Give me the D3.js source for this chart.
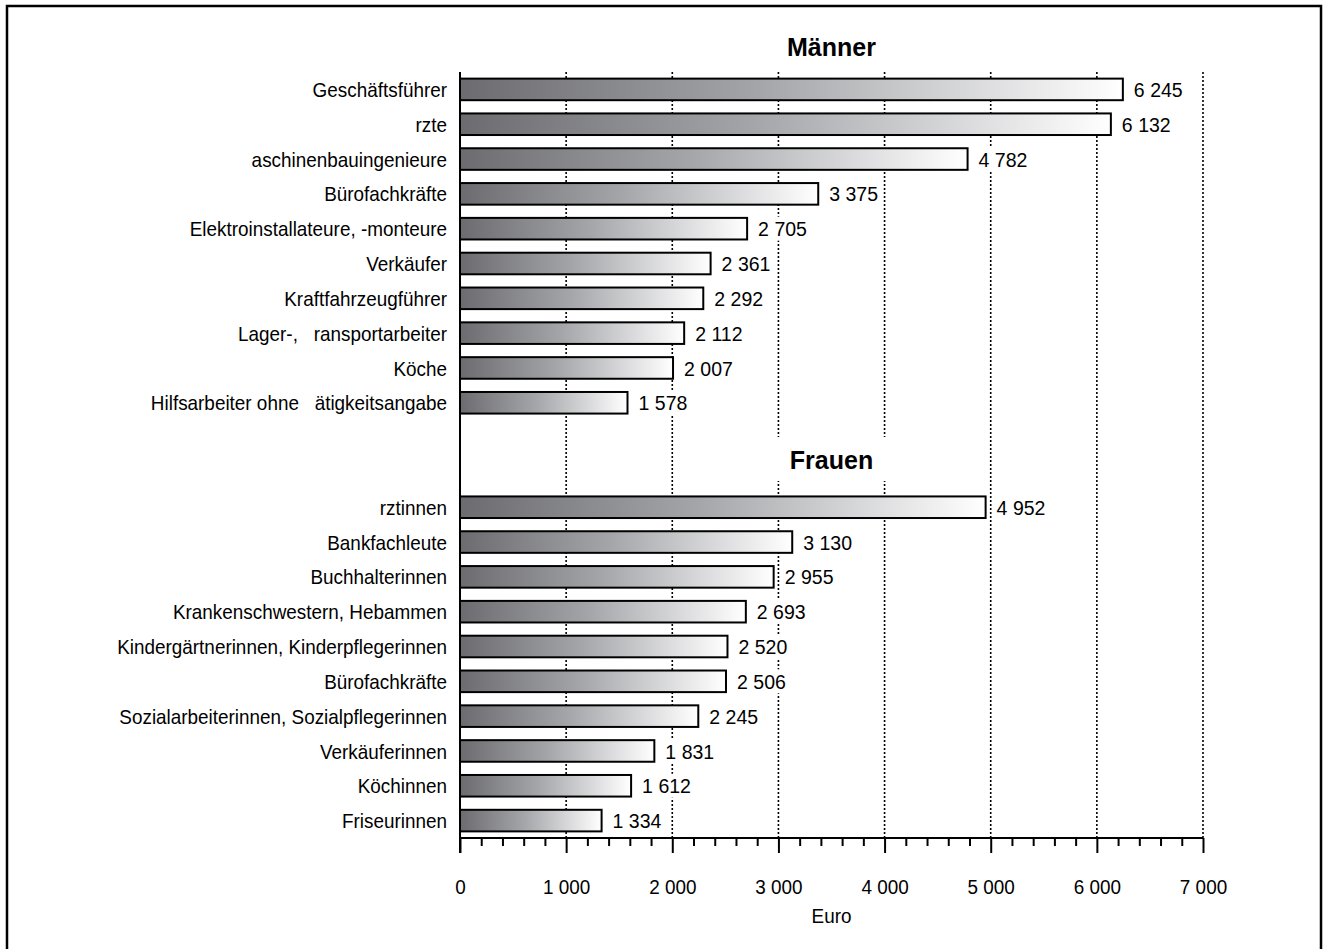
<!DOCTYPE html>
<html>
<head>
<meta charset="utf-8">
<script src="https://cdn.jsdelivr.net/npm/d3@7"></script>
<style>
  html, body { margin: 0; padding: 0; background: #fff; }
  svg text { font-family: "Liberation Sans", Arial, sans-serif; fill: #000; }
</style>
</head>
<body>
<svg id="chart" width="1324" height="949"></svg>
<script>
// Monthly gross earnings by occupation (Euro)
const menCategories = [
  "Geschäftsführer", "rzte", "aschinenbauingenieure", "Bürofachkräfte",
  "Elektroinstallateure, -monteure", "Verkäufer", "Kraftfahrzeugführer",
  "Lager-,   ransportarbeiter", "Köche", "Hilfsarbeiter ohne   ätigkeitsangabe"
];
const menValues = [6245, 6132, 4782, 3375, 2705, 2361, 2292, 2112, 2007, 1578];

const womenCategories = [
  "rztinnen", "Bankfachleute", "Buchhalterinnen", "Krankenschwestern, Hebammen",
  "Kindergärtnerinnen, Kinderpflegerinnen", "Bürofachkräfte",
  "Sozialarbeiterinnen, Sozialpflegerinnen", "Verkäuferinnen", "Köchinnen", "Friseurinnen"
];
const womenValues = [4952, 3130, 2955, 2693, 2520, 2506, 2245, 1831, 1612, 1334];

const xTicks = [0, 1000, 2000, 3000, 4000, 5000, 6000, 7000];
const groupTitles = ["Männer", "Frauen"];
const axisTitle = "Euro";

// rows: men, two empty slots for the second heading, women
const rows = [];
menCategories.forEach((c, i) => rows.push({ key: "m" + i, label: c, value: menValues[i] }));
rows.push({ key: "gap0" }, { key: "gap1" });
womenCategories.forEach((c, i) => rows.push({ key: "w" + i, label: c, value: womenValues[i] }));
const barRows = rows.filter(r => r.value !== undefined);

const fmt = v => d3.format(",")(v).replace(/,/g, " ");

const svg = d3.select("#chart");
const plot = { left: 460, right: 1203, top: 72, bottom: 838 };
const labelSize = 21, labelScale = 0.9;   // slightly condensed text
const valueSize = 21, valueScale = 0.93;

const x = d3.scaleLinear().domain([0, 7000]).range([plot.left, plot.right]);
const y = d3.scaleBand()
  .domain(rows.map(r => r.key))
  .range([plot.top, plot.bottom])
  .paddingInner(0.38)
  .paddingOuter(0.19);
const yMid = key => y(key) + y.bandwidth() / 2;

// frame
svg.append("rect")
  .attr("x", 7).attr("y", 6).attr("width", 1314).attr("height", 1000)
  .attr("fill", "none").attr("stroke", "#000").attr("stroke-width", 2.5);

// per-bar horizontal gradient
const defs = svg.append("defs");
const grad = defs.append("linearGradient")
  .attr("id", "barGrad").attr("x1", "0%").attr("x2", "100%").attr("y1", "0%").attr("y2", "0%");
grad.append("stop").attr("offset", "0%").attr("stop-color", "#6b6b70");
grad.append("stop").attr("offset", "45%").attr("stop-color", "#a4a5a9");
grad.append("stop").attr("offset", "100%").attr("stop-color", "#ffffff");

// dotted vertical grid
svg.append("g")
  .selectAll("line")
  .data(xTicks.slice(1))
  .join("line")
  .attr("x1", d => x(d)).attr("x2", d => x(d))
  .attr("y1", plot.top).attr("y2", plot.bottom)
  .attr("stroke", "#000").attr("stroke-width", 1.6)
  .attr("stroke-dasharray", "2,2");

// heading for the women's block sits on a white patch over the grid
const frauenY = (y("gap0") + y("gap1") + y.bandwidth()) / 2;
svg.append("rect")
  .attr("x", x(2600)).attr("width", x(4600) - x(2600))
  .attr("y", frauenY - 18).attr("height", 44)
  .attr("fill", "#fff");

// bars
svg.append("g")
  .selectAll("rect")
  .data(barRows)
  .join("rect")
  .attr("x", x(0))
  .attr("y", d => y(d.key))
  .attr("width", d => x(d.value) - x(0))
  .attr("height", y.bandwidth())
  .attr("fill", "url(#barGrad)")
  .attr("stroke", "#000").attr("stroke-width", 2);

// value labels on white boxes that hide the grid behind them
const valG = svg.append("g")
  .selectAll("g")
  .data(barRows)
  .join("g")
  .attr("transform", d => `translate(${x(d.value) + 11},${yMid(d.key)})`);
const valText = valG.append("text")
  .attr("dy", "0.36em")
  .attr("font-size", valueSize)
  .attr("transform", `scale(${valueScale},1)`)
  .text(d => fmt(d.value));
valG.each(function () {
  const g = d3.select(this);
  const w = g.select("text").node().getComputedTextLength() * valueScale;
  g.insert("rect", "text")
    .attr("x", -4).attr("y", -12).attr("width", w + 6).attr("height", 24)
    .attr("fill", "#fff");
});

// category labels
svg.append("g")
  .selectAll("text")
  .data(rows.filter(r => r.label !== undefined))
  .join("text")
  .attr("transform", d => `translate(${plot.left - 13},${yMid(d.key)}) scale(${labelScale},1)`)
  .attr("dy", "0.36em")
  .attr("text-anchor", "end")
  .attr("font-size", labelSize)
  .attr("xml:space", "preserve")
  .style("white-space", "pre")
  .text(d => d.label);

// group headings
svg.append("text")
  .attr("x", (plot.left + plot.right) / 2).attr("y", 47).attr("dy", "0.36em")
  .attr("text-anchor", "middle").attr("font-size", 25).attr("font-weight", "bold")
  .text(groupTitles[0]);
svg.append("text")
  .attr("x", (plot.left + plot.right) / 2).attr("y", frauenY + 5).attr("dy", "0.36em")
  .attr("text-anchor", "middle").attr("font-size", 25).attr("font-weight", "bold")
  .text(groupTitles[1]);

// x axis: major ticks every 1000, minor every 200
const minor = d3.range(0, 7001, 200).filter(v => v % 1000 !== 0);
const axisG = svg.append("g").attr("transform", `translate(0,${plot.bottom})`);
axisG.append("g")
  .call(d3.axisBottom(x).tickValues(minor).tickSize(8).tickFormat(""))
  .call(g => g.select(".domain").remove())
  .call(g => g.selectAll(".tick line").attr("stroke", "#000").attr("stroke-width", 2));
axisG.append("g")
  .call(d3.axisBottom(x).tickValues(xTicks).tickSize(15).tickPadding(26).tickFormat(fmt))
  .call(g => g.select(".domain").attr("d", `M${x(0)},0H${x(7000)}`).attr("stroke", "#000").attr("stroke-width", 2))
  .call(g => g.selectAll(".tick line").attr("stroke", "#000").attr("stroke-width", 2))
  .call(g => g.selectAll(".tick text").attr("font-size", labelSize).attr("fill", "#000")
    .attr("transform", `scale(${labelScale},1)`)
    .attr("font-family", "'Liberation Sans', Arial, sans-serif"));

// left axis line
svg.append("line")
  .attr("x1", x(0)).attr("x2", x(0))
  .attr("y1", plot.top).attr("y2", plot.bottom + 15)
  .attr("stroke", "#000").attr("stroke-width", 2);

// axis title
svg.append("text")
  .attr("transform", `translate(${(plot.left + plot.right) / 2},915) scale(${labelScale},1)`)
  .attr("dy", "0.36em")
  .attr("text-anchor", "middle").attr("font-size", labelSize)
  .text(axisTitle);
</script>
</body>
</html>
